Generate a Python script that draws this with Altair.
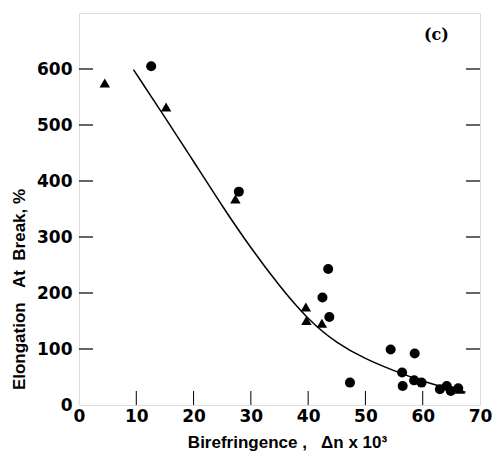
import altair as alt
import pandas as pd

# Data
tri_x = [4.5, 15.2, 27.3, 39.6, 39.7, 42.4, 66.5]
tri_y = [575, 532, 368, 175, 151, 146, 28]
circ_x = [12.6, 27.9, 43.5, 42.5, 43.7, 47.3, 54.4, 58.6, 56.4, 56.5, 58.5, 59.8, 63.0, 64.2, 64.9, 66.2]
circ_y = [605, 381, 243, 192, 157, 40, 99, 92, 58, 34, 44, 40, 28, 34, 25, 30]
curve_x = [9.5, 15, 20, 25, 30, 35, 40, 45, 50, 55, 60, 65, 67.5]
curve_y = [599, 514, 435, 355, 280, 212, 152, 110, 82, 61, 42, 28, 23]
x_ticks = [10, 20, 30, 40, 50, 60]
y_ticks = [100, 200, 300, 400, 500, 600]

NB = "\u00a0"
x_title = "Birefringence" + NB + "," + NB * 3 + "Δn x 10³"
y_title = "Elongation" + NB * 3 + "At" + NB * 2 + "Break," + NB + "%"

W, H = 401, 392
TL = 14

tri = pd.DataFrame({"x": tri_x, "y": tri_y})
circ = pd.DataFrame({"x": circ_x, "y": circ_y})
curve = pd.DataFrame({"x": curve_x, "y": curve_y})
xt = pd.DataFrame({"x": x_ticks})
yt = pd.DataFrame({"y": y_ticks})

xscale = alt.Scale(domain=[0, 70], nice=False, zero=False)
yscale = alt.Scale(domain=[0, 700], nice=False, zero=False)

xaxis = alt.Axis(
    values=[0, 10, 20, 30, 40, 50, 60, 70], tickSize=0, domain=False, grid=False,
    labelFont="DejaVu Sans", labelFontWeight="bold", labelFontSize=17, labelColor="black",
    labelPadding=3, labelFlush=False,
    title=x_title, titleFont="Liberation Sans", titleFontWeight="bold",
    titleFontSize=17, titleColor="black", titleX=208, titleY=37, titleBaseline="middle",
    titleAlign="center",
)
yaxis = alt.Axis(
    values=[0, 100, 200, 300, 400, 500, 600], tickSize=0, domain=False, grid=False,
    labelFont="DejaVu Sans", labelFontWeight="bold", labelFontSize=17, labelColor="black",
    labelPadding=7, labelFlush=False,
    title=y_title, titleFont="Liberation Sans", titleFontWeight="bold",
    titleFontSize=17, titleColor="black", titleX=-60, titleY=276, titleAngle=-90,
    titleBaseline="middle", titleAlign="center",
)

line = alt.Chart(curve).mark_line(color="black", strokeWidth=1.5, interpolate="basis").encode(
    x=alt.X("x:Q", scale=xscale, axis=xaxis),
    y=alt.Y("y:Q", scale=yscale, axis=yaxis),
)
circles = alt.Chart(circ).mark_point(shape="circle", filled=True, color="black", opacity=1, size=100).encode(
    x=alt.X("x:Q", scale=xscale), y=alt.Y("y:Q", scale=yscale)
)
triangles = alt.Chart(tri).mark_point(shape="triangle-up", filled=True, color="black", opacity=1, size=110).encode(
    x=alt.X("x:Q", scale=xscale), y=alt.Y("y:Q", scale=yscale)
)
xt_rules = alt.Chart(xt).mark_rule(color="black", strokeWidth=1).encode(
    x=alt.X("x:Q", scale=xscale), y=alt.value(H), y2=alt.value(H - TL)
)
yt_left = alt.Chart(yt).mark_rule(color="black", strokeWidth=1.2).encode(
    y=alt.Y("y:Q", scale=yscale), x=alt.value(0), x2=alt.value(TL)
)
yt_right = alt.Chart(yt).mark_rule(color="black", strokeWidth=1.2).encode(
    y=alt.Y("y:Q", scale=yscale), x=alt.value(W - TL), x2=alt.value(W)
)
label = alt.Chart(pd.DataFrame({"x": [62.4], "y": [661], "t": ["(c)"]})).mark_text(
    font="DejaVu Serif", fontWeight="bold", fontSize=16, color="black"
).encode(x=alt.X("x:Q", scale=xscale), y=alt.Y("y:Q", scale=yscale), text="t:N")

chart = alt.layer(line, xt_rules, yt_left, yt_right, triangles, circles, label).properties(
    width=W, height=H,
    autosize=alt.AutoSizeParams(type="none"),
    padding={"left": 79, "top": 13, "right": 12, "bottom": 54},
).configure_view(stroke="black", strokeWidth=2).configure(background="white")

chart.save("out.html", embed_options={"renderer": "svg", "actions": False})
